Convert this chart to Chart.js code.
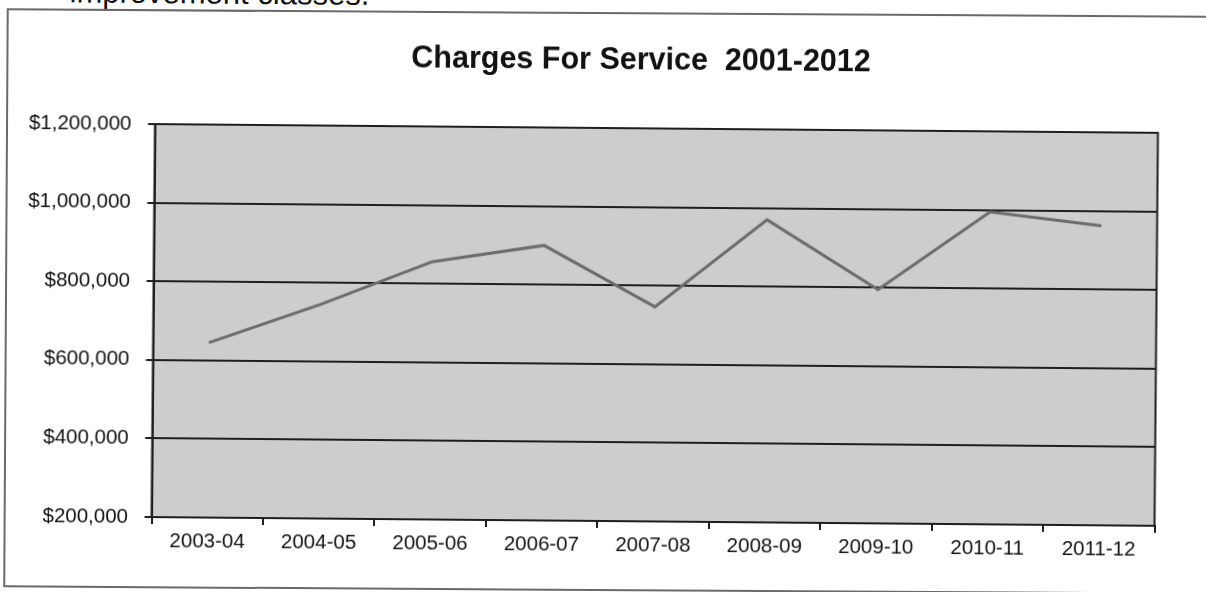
<!DOCTYPE html>
<html>
<head>
<meta charset="utf-8">
<title>Charges For Service 2001-2012</title>
<script src="https://cdn.jsdelivr.net/npm/chart.js@4/dist/chart.umd.min.js"></script>
<style>
  html, body { margin: 0; padding: 0; background: #fff; overflow: hidden; }
  #page { position: relative; width: 1206px; height: 592px; overflow: hidden; }
  #lead {
    position: absolute; left: 67px; top: -19px;
    font: 31px "Liberation Sans", Arial, sans-serif; line-height: 1;
    color: #111; white-space: nowrap;
    transform: rotate(0.5deg); transform-origin: 536px 314px;
  }
  #frame {
    position: absolute; left: 5px; top: 12px; width: 1280px; height: 579px;
    box-sizing: border-box; border: 2px solid #6a6a6a;
    transform: rotate(0.35deg); transform-origin: 598px 284px;
  }
  #plot {
    position: absolute; left: 0; top: 0; width: 1206px; height: 592px;
    transform: rotate(0.5deg); transform-origin: 603px 296px;
  }
  #title {
    position: absolute; left: 0; top: 42.8px; width: 1278px; text-align: center;
    font: bold 30.5px "Liberation Sans", Arial, sans-serif; line-height: 1;
    color: #111; white-space: pre;
  }
</style>
</head>
<body>
<div id="page">
  <div id="lead">improvement classes.</div>
  <div id="frame"></div>
  <div id="plot">
    <canvas id="chart" width="1206" height="592"></canvas>
    <div id="title">Charges For Service  2001-2012</div>
  </div>
</div>
<script>
// Fiscal years on the category axis
const categories = ['2003-04', '2004-05', '2005-06', '2006-07', '2007-08', '2008-09', '2009-10', '2010-11', '2011-12'];
// Charges for service, dollars
const charges = [645000, 745000, 856000, 900000, 746000, 970000, 795000, 995000, 962000];
// Value axis ticks
const yTicks = [200000, 400000, 600000, 800000, 1000000, 1200000];

const FONT = '"Liberation Sans", Arial, sans-serif';
const INK = '#1e1e1e';

// Gray plot background plus a closed frame around the plot area
const plotBox = {
  id: 'plotBox',
  beforeDraw(chart) {
    const { ctx, chartArea: a } = chart;
    ctx.save();
    ctx.fillStyle = '#cdcdcd';
    ctx.fillRect(a.left, a.top, a.right - a.left, a.bottom - a.top);
    ctx.restore();
  },
  afterDraw(chart) {
    const { ctx, chartArea: a } = chart;
    ctx.save();
    ctx.strokeStyle = INK;
    ctx.lineWidth = 2;
    ctx.strokeRect(a.left, a.top, a.right - a.left, a.bottom - a.top);
    ctx.restore();
  }
};

new Chart(document.getElementById('chart'), {
  type: 'line',
  data: {
    labels: categories,
    datasets: [{
      label: 'Charges For Service',
      data: charges,
      borderColor: '#6c6c6c',
      borderWidth: 3,
      pointRadius: 0,
      tension: 0,
      fill: false
    }]
  },
  options: {
    responsive: false,
    animation: false,
    devicePixelRatio: 1,
    layout: { padding: { left: 0, right: 49.5, top: 128, bottom: 0 } },
    plugins: {
      legend: { display: false },
      tooltip: { enabled: false },
      title: { display: false }
    },
    scales: {
      x: {
        type: 'category',
        offset: true,
        grid: {
          offset: true,
          drawOnChartArea: false,
          drawTicks: true,
          tickLength: 7,
          color: INK,
          lineWidth: 2
        },
        border: { display: true, color: INK, width: 2 },
        ticks: {
          color: '#111',
          padding: 5,
          maxRotation: 0,
          autoSkip: false,
          font: { family: FONT, size: 20.5 }
        },
        afterFit(scale) { scale.height = 71; }
      },
      y: {
        min: 200000,
        max: 1200000,
        afterBuildTicks(scale) { scale.ticks = yTicks.map(v => ({ value: v })); },
        grid: {
          drawTicks: true,
          tickLength: 7,
          color: INK,
          lineWidth: 2
        },
        border: { display: true, color: INK, width: 2 },
        ticks: {
          color: '#111',
          padding: 16.5,
          font: { family: FONT, size: 20.5 },
          callback: v => '$' + Number(v).toLocaleString('en-US')
        },
        afterFit(scale) { scale.width = 153.5; }
      }
    }
  },
  plugins: [plotBox]
});
</script>
</body>
</html>
